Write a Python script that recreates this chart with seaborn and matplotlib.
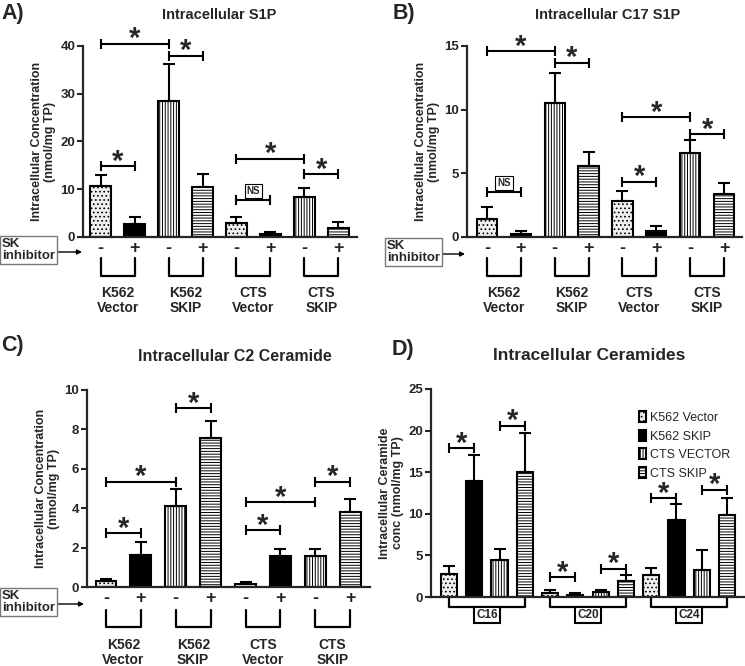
import numpy as np
import pandas as pd
import seaborn as sns
import matplotlib.pyplot as plt

# ---- data ----
groups = ["K562\nVector", "K562\nSKIP", "CTS\nVector", "CTS\nSKIP"]
sk_signs = ["-", "+", "-", "+", "-", "+", "-", "+"]
conditions = ["K562 Vector -", "K562 Vector +", "K562 SKIP -", "K562 SKIP +",
              "CTS Vector -", "CTS Vector +", "CTS SKIP -", "CTS SKIP +"]

s1p_mean = [10.7, 2.8, 28.4, 10.4, 3.0, 0.6, 8.3, 1.9]
s1p_err = [2.3, 1.3, 7.9, 2.8, 1.1, 0.4, 1.9, 1.3]

c17_mean = [1.45, 0.25, 10.55, 5.6, 2.8, 0.45, 6.6, 3.35]
c17_err = [0.9, 0.22, 2.3, 1.1, 0.8, 0.38, 1.05, 0.9]

c2_mean = [0.3, 1.63, 4.1, 7.55, 0.15, 1.57, 1.57, 3.8]
c2_err = [0.1, 0.65, 0.85, 0.9, 0.1, 0.37, 0.37, 0.65]

ceramides = ["C16", "C20", "C24"]
cell_lines = ["K562 Vector", "K562 SKIP", "CTS VECTOR", "CTS SKIP"]
k562_vector_mean = [2.8, 0.52, 2.6]
k562_skip_mean = [14.0, 0.28, 9.25]
cts_vector_mean = [4.4, 0.6, 3.3]
cts_skip_mean = [15.0, 1.93, 9.85]
k562_vector_err = [0.9, 0.28, 0.9]
k562_skip_err = [3.1, 0.24, 1.9]
cts_vector_err = [1.35, 0.28, 2.4]
cts_skip_err = [4.7, 0.7, 2.0]

# significance brackets: (bar i, bar j, height, label)
sig_a = [(0, 2, 40.5, "*"), (2, 3, 38.0, "*"), (0, 1, 14.8, "*"),
         (4, 5, 7.8, "NS"), (4, 6, 16.4, "*"), (6, 7, 13.2, "*")]
sig_b = [(0, 2, 14.6, "*"), (2, 3, 13.7, "*"), (0, 1, 3.5, "NS"),
         (4, 5, 4.35, "*"), (4, 6, 9.4, "*"), (6, 7, 8.05, "*")]
sig_c = [(0, 1, 2.75, "*"), (0, 2, 5.35, "*"), (2, 3, 9.1, "*"),
         (4, 5, 2.9, "*"), (4, 6, 4.3, "*"), (6, 7, 5.35, "*")]
sig_d = [(0, 1, 17.9, "*"), (2, 3, 20.6, "*"), (4, 5, 2.4, "*"),
         (6, 7, 3.4, "*"), (8, 9, 11.9, "*"), (10, 11, 12.9, "*")]

W, H = 745, 666

sns.set_theme(style="ticks")
plt.rcParams["font.family"] = ["Liberation Sans", "DejaVu Sans"]
plt.rcParams["font.weight"] = "bold"
plt.rcParams["axes.labelweight"] = "bold"
plt.rcParams["hatch.linewidth"] = 0.7

STYLES = [dict(fc="#efefef", hatch="...."),
          dict(fc="black", hatch=""),
          dict(fc="white", hatch="||||||"),
          dict(fc="white", hatch="------")]


def fx(px):
    return px / W


def fy(py):
    return 1 - py / H


def ax_h_px(ax):
    return ax.get_position().height * H


def setup_axes(ax, ylim, yticks, ylabel):
    ax.set_ylim(*ylim)
    ax.set_yticks(yticks)
    for s in ["top", "right"]:
        ax.spines[s].set_visible(False)
    for s in ["left", "bottom"]:
        ax.spines[s].set_linewidth(1.6)
    ax.tick_params(axis="y", width=1.5, length=4, labelsize=9.5, pad=1.5)
    ax.set_ylabel(ylabel, fontsize=9, linespacing=1.15, labelpad=3)
    ax.set_xlabel("")


def add_errors(ax, patches, errs):
    xs = [p.get_x() + p.get_width() / 2 for p in patches]
    ys = [p.get_height() for p in patches]
    ax.errorbar(xs, ys, yerr=[np.zeros(len(errs)), errs], fmt="none",
                ecolor="black", elinewidth=1.5, capsize=4, capthick=1.5, zorder=3)


def add_sig(ax, xs, sigs):
    for i, j, y, label in sigs:
        x1, x2 = xs[i], xs[j]
        ax.plot([x1, x2], [y, y], color="black", lw=1.5, marker="|", ms=7,
                mew=1.5, clip_on=False, zorder=4)
        if label == "NS":
            ax.annotate("NS", xy=((x1 + x2) / 2, y), xytext=(0, 3),
                        textcoords="offset points", ha="center", va="bottom",
                        fontsize=7, annotation_clip=False,
                        bbox=dict(boxstyle="square,pad=0.2", fc="white", ec="black", lw=0.8))
        else:
            ax.annotate("*", xy=((x1 + x2) / 2, y), xytext=(0, -7),
                        textcoords="offset points", ha="center", va="bottom",
                        fontsize=21, annotation_clip=False)


def sk_panel(ax, means, errs, ylim, yticks, sigs, top_px, bot_px, text_px):
    df = pd.DataFrame({"cond": conditions, "value": means})
    sns.barplot(data=df, x="cond", y="value", order=conditions, color="white",
                width=0.6, edgecolor="black", linewidth=1.5, errorbar=None, ax=ax)
    patches = list(ax.patches)
    for p, st in zip(patches, STYLES * 2):
        p.set_facecolor(st["fc"])
        p.set_hatch(st["hatch"])
    add_errors(ax, patches, errs)
    xs = [p.get_x() + p.get_width() / 2 for p in patches]
    setup_axes(ax, ylim, yticks, "Intracellular Concentration\n(nmol/mg TP)")
    ax.set_xticks(range(len(conditions)))
    ax.set_xticklabels(sk_signs, fontsize=13)
    ax.tick_params(axis="x", length=0, pad=2)
    add_sig(ax, xs, sigs)
    # group brackets under the -/+ pairs
    tr = ax.get_xaxis_transform()
    h = ax_h_px(ax)
    for k, lab in enumerate(groups):
        x1, x2 = xs[2 * k], xs[2 * k + 1]
        ax.plot([x1, x1, x2, x2], [-top_px / h, -bot_px / h, -bot_px / h, -top_px / h],
                transform=tr, color="black", lw=1.6, clip_on=False)
        ax.text((x1 + x2) / 2, -text_px / h, lab, transform=tr, ha="center",
                va="top", fontsize=10, linespacing=1.05)


def sk_box(fig, x_left, y_mid, x_tip):
    fig.text(fx(x_left), fy(y_mid), "SK\ninhibitor", ha="left", va="center",
             fontsize=9.5, linespacing=1.0,
             bbox=dict(boxstyle="square,pad=0.15", fc="white", ec="#777777", lw=1))
    fig.axes[0].annotate("", xy=(fx(x_tip), fy(y_mid + 2)), xycoords="figure fraction",
                         xytext=(fx(x_left + 53), fy(y_mid + 2)), textcoords="figure fraction",
                         arrowprops=dict(arrowstyle="-|>", lw=1, color="black",
                                         shrinkA=0, shrinkB=0, mutation_scale=7),
                         annotation_clip=False)


fig = plt.figure(figsize=(W / 100, H / 100), dpi=100)
ax_a = fig.add_axes([fx(83), fy(237), (357 - 83) / W, (237 - 46) / H])
ax_b = fig.add_axes([fx(467), fy(237), (742 - 467) / W, (237 - 46) / H])
ax_c = fig.add_axes([fx(87), fy(587), (370 - 87) / W, (587 - 390) / H])
ax_d = fig.add_axes([fx(431), fy(597), (745 - 431) / W, (597 - 389) / H])

# ---- A, B, C ----
sk_panel(ax_a, s1p_mean, s1p_err, (0, 40), [0, 10, 20, 30, 40], sig_a, 21, 39, 49)
ax_a.set_xlim(-0.52, 7.55)
sk_panel(ax_b, c17_mean, c17_err, (0, 15), [0, 5, 10, 15], sig_b, 21, 39, 49)
ax_b.set_xlim(-0.59, 7.53)
sk_panel(ax_c, c2_mean, c2_err, (0, 10), [0, 2, 4, 6, 8, 10], sig_c, 23, 40, 51)
ax_c.set_xlim(-0.545, 7.57)

# ---- D ----
cer_means = [k562_vector_mean, k562_skip_mean, cts_vector_mean, cts_skip_mean]
cer_errs = [k562_vector_err, k562_skip_err, cts_vector_err, cts_skip_err]
df_d = pd.DataFrame([(c, line, m)
                     for line, vals in zip(cell_lines, cer_means)
                     for c, m in zip(ceramides, vals)],
                    columns=["ceramide", "line", "value"])
sns.barplot(data=df_d, x="ceramide", y="value", hue="line", order=ceramides,
            hue_order=cell_lines, palette=["white"] * 4, width=1.0, gap=0.36,
            edgecolor="black", linewidth=1.5, errorbar=None, legend=False, ax=ax_d)
bar_conts = list(ax_d.containers)
centers = {}
for k, (cont, st, errs) in enumerate(zip(bar_conts, STYLES, cer_errs)):
    for c_i, p in enumerate(cont.patches):
        p.set_facecolor(st["fc"])
        p.set_hatch(st["hatch"])
        centers[c_i * 4 + k] = p.get_x() + p.get_width() / 2
    add_errors(ax_d, cont.patches, errs)
xs_d = [centers[i] for i in range(12)]
setup_axes(ax_d, (0, 25), [0, 5, 10, 15, 20, 25],
           "Intracellular Ceramide\nconc (nmol/mg TP)")
ax_d.set_xlim(-0.553, 2.553)
ax_d.set_xticks([])
add_sig(ax_d, xs_d, sig_d)
tr = ax_d.get_xaxis_transform()
h = ax_h_px(ax_d)
for g, lab in enumerate(ceramides):
    x1, x2 = xs_d[4 * g], xs_d[4 * g + 3]
    ax_d.plot([x1, x1, x2, x2], [0, -10 / h, -10 / h, 0], transform=tr,
              color="black", lw=1.6, clip_on=False)
    ax_d.text((x1 + x2) / 2, -12 / h, lab, transform=tr, ha="center", va="top",
              fontsize=8.5, bbox=dict(boxstyle="square,pad=0.2", fc="white", ec="black", lw=1.5))
ax_d.legend(handles=[c.patches[0] for c in bar_conts], labels=cell_lines,
            loc="upper left", bbox_to_anchor=(fx(628), fy(400)), bbox_transform=fig.transFigure,
            frameon=False, handlelength=0.5, handleheight=1.0, handletextpad=0.4,
            labelspacing=0.45, prop={"size": 9, "weight": "normal"})

# ---- titles, panel letters, SK inhibitor boxes ----
fig.text(fx(219), fy(15), "Intracellular S1P", ha="center", va="center", fontsize=10.5)
fig.text(fx(608), fy(15), "Intracellular C17 S1P", ha="center", va="center", fontsize=10.5)
fig.text(fx(235), fy(356), "Intracellular C2 Ceramide", ha="center", va="center", fontsize=11.5)
fig.text(fx(589), fy(355), "Intracellular Ceramides", ha="center", va="center", fontsize=12.5)
fig.text(fx(1), fy(14), "A)", ha="left", va="center", fontsize=15.5)
fig.text(fx(393), fy(14), "B)", ha="left", va="center", fontsize=15.5)
fig.text(fx(1), fy(345), "C)", ha="left", va="center", fontsize=15.5)
fig.text(fx(392), fy(350), "D)", ha="left", va="center", fontsize=15.5)

sk_box(fig, 2, 250, 82)
sk_box(fig, 387, 252, 465)
sk_box(fig, 2, 602, 84)

fig.savefig("out.png", dpi=100)
